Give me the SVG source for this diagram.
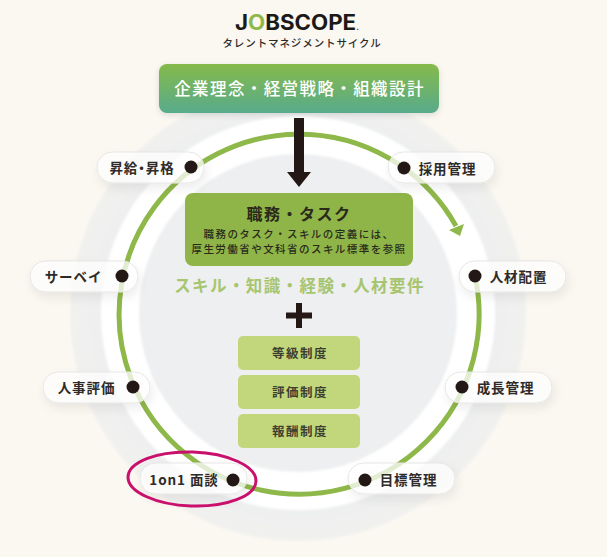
<svg xmlns="http://www.w3.org/2000/svg" width="607" height="557" viewBox="0 0 607 557">
<style>
text{font-family:"Noto Sans CJK JP","Noto Sans",sans-serif;text-anchor:middle}
.pill{fill:#ffffff;fill-opacity:.74;stroke:#e6e6e4;stroke-width:1;filter:url(#sh)}
.dot{fill:#231815}
.lbl{font-size:13.500px;font-weight:700;fill:#2e2a28;letter-spacing:.9px}
.sub{font-size:10.500px;font-weight:500;fill:#2a2a1c;letter-spacing:1.45px}
.sys{fill:#c2d77c}
.syst{font-size:12.500px;font-weight:700;fill:#3d4030;letter-spacing:1.5px}
</style>
<defs>
<linearGradient id="bn" x1="0" y1="0" x2="0" y2="1"><stop offset="0" stop-color="#85b94a"/><stop offset="1" stop-color="#58ab8c"/></linearGradient>
<radialGradient id="og" gradientUnits="userSpaceOnUse" cx="298" cy="313" r="228"><stop offset=".85" stop-color="#eeeff0"/><stop offset="1" stop-color="#f1f1ef"/></radialGradient>
<filter id="sh" x="-25%" y="-60%" width="150%" height="240%"><feDropShadow dx="2" dy="5" stdDeviation="5" flood-color="#000" flood-opacity=".09"/></filter>
<filter id="bs" x="-10%" y="-20%" width="120%" height="150%"><feDropShadow dx="0" dy="2" stdDeviation="3" flood-color="#000" flood-opacity=".12"/></filter>
<filter id="sf" x="-5%" y="-5%" width="110%" height="110%"><feGaussianBlur stdDeviation="1"/></filter>
</defs>
<rect width="607" height="557" fill="#fbf8f1"/>
<g id="backdrop" filter="url(#sf)">
<circle cx="298" cy="313" r="228" fill="url(#og)"/>
<circle cx="298" cy="313" r="197" fill="#ffffff"/>
<circle cx="298" cy="313" r="159" fill="#eeeff0"/>
</g>
<g id="connectors">
<path d="M475 276A180 180 0 1 1 456 226" fill="none" stroke="#8fb84a" stroke-width="5"/>
<path d="M449 230L464 224L460 236Z" fill="#8fb84a"/>
<path d="M294 118H304V172H311L299 187L287 172H294Z" fill="#231815"/>
</g>
<g id="logo">
<text x="297" y="30" font-size="21" font-weight="700" style="font-family:Inter,sans-serif" textLength="124" lengthAdjust="spacingAndGlyphs" fill="#1c1a18">J<tspan fill="#8fb84a">O</tspan>BSCOPE<tspan font-size="8">.</tspan></text>
<text x="302" y="47" font-size="10.500" font-weight="500" fill="#2e2a28" letter-spacing=".9">タレントマネジメントサイクル</text>
</g>
<g id="banner">
<rect x="159" y="64" width="280" height="49" rx="8" fill="url(#bn)" filter="url(#bs)"/>
<text x="299.500" y="95" font-size="16.500" font-weight="500" fill="#fff" letter-spacing="1.4">企業理念・経営戦略・組織設計</text>
</g>
<g id="task">
<rect x="185" y="193" width="228" height="73" rx="8" fill="#8fb548"/>
<text x="299" y="220" font-size="16" font-weight="700" fill="#2a2a1c" letter-spacing="1.500">職務・タスク</text>
<text class="sub" x="299" y="238">職務のタスク・スキルの定義には、</text>
<text class="sub" x="299" y="253">厚生労働省や文科省のスキル標準を参照</text>
</g>
<g id="skills">
<text x="299.500" y="292" font-size="16.500" font-weight="700" fill="#a6c56e" letter-spacing="1.4">スキル・知識・経験・人材要件</text>
<path d="M296 303H302V312.500H312V318.500H302V328H296V318.500H286V312.500H296Z" fill="#231815"/>
</g>
<g id="grade"><rect class="sys" x="238" y="336" width="122" height="34" rx="5"/><text class="syst" x="300" y="358">等級制度</text></g>
<g id="eval"><rect class="sys" x="238" y="375" width="122" height="34" rx="5"/><text class="syst" x="300" y="397">評価制度</text></g>
<g id="pay"><rect class="sys" x="238" y="414" width="122" height="34" rx="5"/><text class="syst" x="300" y="436">報酬制度</text></g>
<g id="n-shokyu"><rect class="pill" x="97" y="152" width="107" height="31" rx="15.500"/><circle class="dot" cx="191" cy="167" r="6.500"/><text class="lbl" x="142" y="173" style="font-feature-settings:'palt'">昇給・昇格</text></g>
<g id="n-survey"><rect class="pill" x="30" y="261" width="108" height="31" rx="15.500"/><circle class="dot" cx="122" cy="276" r="6.500"/><text class="lbl" x="73.500" y="282">サーベイ</text></g>
<g id="n-jinji"><rect class="pill" x="43" y="372" width="107" height="31" rx="15.500"/><circle class="dot" cx="133" cy="387" r="6.500"/><text class="lbl" x="86.500" y="393">人事評価</text></g>
<g id="n-1on1"><rect class="pill" x="140" y="463" width="107" height="31" rx="15.500"/><circle class="dot" cx="233" cy="480" r="6.500"/><text class="lbl" x="184" y="485">1on1 面談</text></g>
<g id="n-saiyo"><rect class="pill" x="388" y="152" width="107" height="31" rx="15.500"/><circle class="dot" cx="404" cy="168" r="6.500"/><text class="lbl" x="447.500" y="174">採用管理</text></g>
<g id="n-haichi"><rect class="pill" x="459" y="261" width="107" height="31" rx="15.500"/><circle class="dot" cx="475" cy="276" r="6.500"/><text class="lbl" x="518.500" y="282">人材配置</text></g>
<g id="n-seicho"><rect class="pill" x="445" y="372" width="107" height="31" rx="15.500"/><circle class="dot" cx="462" cy="387" r="6.500"/><text class="lbl" x="505.500" y="393">成長管理</text></g>
<g id="n-mokuhyo"><rect class="pill" x="348" y="463" width="107" height="31" rx="15.500"/><circle class="dot" cx="365" cy="480" r="6.500"/><text class="lbl" x="408.500" y="485">目標管理</text></g>
<ellipse cx="192" cy="479" rx="64" ry="27" fill="none" stroke="#c8106c" stroke-width="3" transform="rotate(2 192 479)"/>
</svg>
